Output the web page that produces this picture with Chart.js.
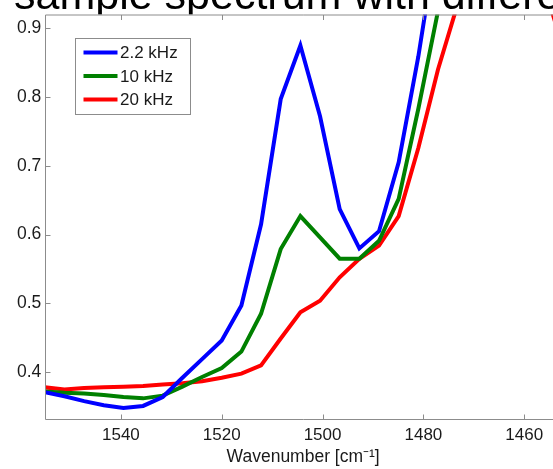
<!DOCTYPE html>
<html>
<head>
<meta charset="utf-8">
<script src="https://cdn.jsdelivr.net/npm/chart.js@4.4.1/dist/chart.umd.min.js"></script>
<style>
  html, body { margin: 0; padding: 0; background: #fff; overflow: hidden; }
  #wrap { width: 553px; height: 469px; overflow: hidden; position: relative; }
  #spectrum { position: absolute; left: 0; top: 0; }
</style>
</head>
<body>
<div id="wrap"><canvas id="spectrum" width="600" height="469"></canvas></div>
<script>
// wavenumber grid (cm-1)
const wavenumbers = [1555.1, 1551.2, 1547.3, 1543.4, 1539.5, 1535.6, 1531.7, 1527.8, 1523.9, 1520.0,
                     1516.1, 1512.2, 1508.3, 1504.4, 1500.5, 1496.6, 1492.7, 1488.8, 1484.9, 1481.0,
                     1477.1, 1473.2, 1469.3, 1465.4, 1461.5, 1457.6, 1453.7, 1449.8];
const spec2k2 = [0.371, 0.365, 0.358, 0.352, 0.348, 0.351, 0.364, 0.392, 0.419, 0.446,
                 0.497, 0.615, 0.797, 0.875, 0.772, 0.637, 0.580, 0.605, 0.705, 0.859,
                 1.04, 1.12, 1.16, 1.18, 1.17, 1.15, 1.12, 1.08];
const spec10k = [0.372, 0.370, 0.369, 0.367, 0.364, 0.362, 0.366, 0.379, 0.393, 0.406,
                 0.430, 0.485, 0.579, 0.627, 0.596, 0.565, 0.565, 0.591, 0.652, 0.783,
                 0.925, 1.03, 1.08, 1.10, 1.09, 1.06, 1.02, 0.99];
const spec20k = [0.378, 0.375, 0.377, 0.378, 0.379, 0.380, 0.382, 0.384, 0.387, 0.392,
                 0.398, 0.410, 0.449, 0.487, 0.504, 0.538, 0.565, 0.584, 0.627, 0.726,
                 0.840, 0.935, 1.00, 1.03, 1.02, 1.00, 0.905, 0.82];
const seriesLabels = ['2.2 kHz', '10 kHz', '20 kHz'];
const seriesColors = ['#0000ff', '#008000', '#ff0000'];
const xTicks = [1540, 1520, 1500, 1480, 1460];
const yTicks = [0.4, 0.5, 0.6, 0.7, 0.8, 0.9];
const titleText = 'sample spectrum with different modulation frequencies';

const FONT = '"Liberation Sans", Arial, Helvetica, sans-serif';

function toPoints(ys) {
    return wavenumbers.map((w, i) => ({ x: w, y: ys[i] }));
}

// cropped title + white axes background, like the matlab export
const matlabBack = {
    id: 'matlabBack',
    beforeDraw(chart) {
        const ctx = chart.ctx;
        const a = chart.chartArea;
        ctx.save();
        ctx.fillStyle = '#fff';
        ctx.fillRect(0, 0, chart.width, chart.height);
        ctx.fillStyle = '#000';
        ctx.font = '43px ' + FONT;
        ctx.textBaseline = 'alphabetic';
        ctx.fillText(titleText, 14, 9);
        ctx.fillStyle = '#fff';
        ctx.fillRect(a.left, a.top, a.right - a.left, a.bottom - a.top);
        ctx.restore();
    }
};

// axes lines and inward tick marks (right side is cropped away)
const matlabFrame = {
    id: 'matlabFrame',
    afterDraw(chart) {
        const ctx = chart.ctx;
        const a = chart.chartArea;
        const xs = chart.scales.x, ys = chart.scales.y;
        const top = a.top + 0.5, bottom = Math.round(a.bottom) + 0.5, left = Math.round(a.left) + 0.5;
        ctx.save();
        ctx.strokeStyle = '#8c8c8c';
        ctx.lineWidth = 1;
        ctx.beginPath();
        ctx.moveTo(left, top); ctx.lineTo(a.right, top);
        ctx.moveTo(left, top); ctx.lineTo(left, bottom);
        ctx.moveTo(left, bottom); ctx.lineTo(a.right, bottom);
        xTicks.forEach(v => {
            const px = Math.round(xs.getPixelForValue(v)) + 0.5;
            ctx.moveTo(px, bottom); ctx.lineTo(px, bottom - 5);
            ctx.moveTo(px, top); ctx.lineTo(px, top + 5);
        });
        yTicks.forEach(v => {
            const py = Math.round(ys.getPixelForValue(v)) + 0.5;
            ctx.moveTo(left, py); ctx.lineTo(left + 5, py);
        });
        ctx.stroke();

        // legend inside the axes
        const bx = 75.5, by = 38.5, bw = 115, bh = 76;
        ctx.fillStyle = '#fff';
        ctx.fillRect(bx, by, bw, bh);
        ctx.strokeStyle = '#8c8c8c';
        ctx.strokeRect(bx, by, bw, bh);
        ctx.font = '17px ' + FONT;
        ctx.textBaseline = 'middle';
        chart.data.datasets.forEach((ds, i) => {
            const y = 52.5 + i * 23.5;
            ctx.strokeStyle = ds.borderColor;
            ctx.lineWidth = 4;
            ctx.beginPath();
            ctx.moveTo(83.5, y);
            ctx.lineTo(117.5, y);
            ctx.stroke();
            ctx.fillStyle = '#1a1a1a';
            ctx.fillText(ds.label, 120, y + 1);
        });
        ctx.restore();
    }
};

const ctx = document.getElementById('spectrum').getContext('2d');
new Chart(ctx, {
    type: 'line',
    data: {
        datasets: [
            { label: seriesLabels[0], data: toPoints(spec2k2), borderColor: seriesColors[0] },
            { label: seriesLabels[1], data: toPoints(spec10k), borderColor: seriesColors[1] },
            { label: seriesLabels[2], data: toPoints(spec20k), borderColor: seriesColors[2] }
        ]
    },
    options: {
        responsive: false,
        devicePixelRatio: 1,
        animation: false,
        clip: 0,
        layout: { padding: { top: 12.3, left: 0, right: 39, bottom: 0 } },
        elements: {
            line: { borderWidth: 4, tension: 0, fill: false, borderJoinStyle: 'miter' },
            point: { radius: 0 }
        },
        plugins: {
            legend: { display: false },
            tooltip: { enabled: false },
            title: { display: false }
        },
        scales: {
            x: {
                type: 'linear',
                reverse: true,
                min: 1452.7,
                max: 1555.0,
                afterBuildTicks: s => { s.ticks = xTicks.map(v => ({ value: v })); },
                afterFit: s => { s.height = 50; },
                grid: { display: false, drawTicks: false },
                border: { display: false },
                ticks: {
                    padding: 6,
                    maxRotation: 0,
                    color: '#1a1a1a',
                    font: { family: FONT, size: 17 },
                    callback: v => String(v)
                },
                title: {
                    display: true,
                    text: 'Wavenumber [cm\u207B\u00B9]',
                    color: '#1a1a1a',
                    font: { family: FONT, size: 17.5 },
                    padding: { top: 0, bottom: 1 }
                }
            },
            y: {
                min: 0.332,
                max: 0.92,
                afterBuildTicks: s => { s.ticks = yTicks.map(v => ({ value: v })); },
                afterFit: s => { s.width = 45.3; },
                grid: { display: false, drawTicks: false },
                border: { display: false },
                ticks: {
                    padding: 4,
                    color: '#1a1a1a',
                    font: { family: FONT, size: 17.5 },
                    callback: v => v.toFixed(1)
                }
            }
        }
    },
    plugins: [matlabBack, matlabFrame]
});
</script>
</body>
</html>
